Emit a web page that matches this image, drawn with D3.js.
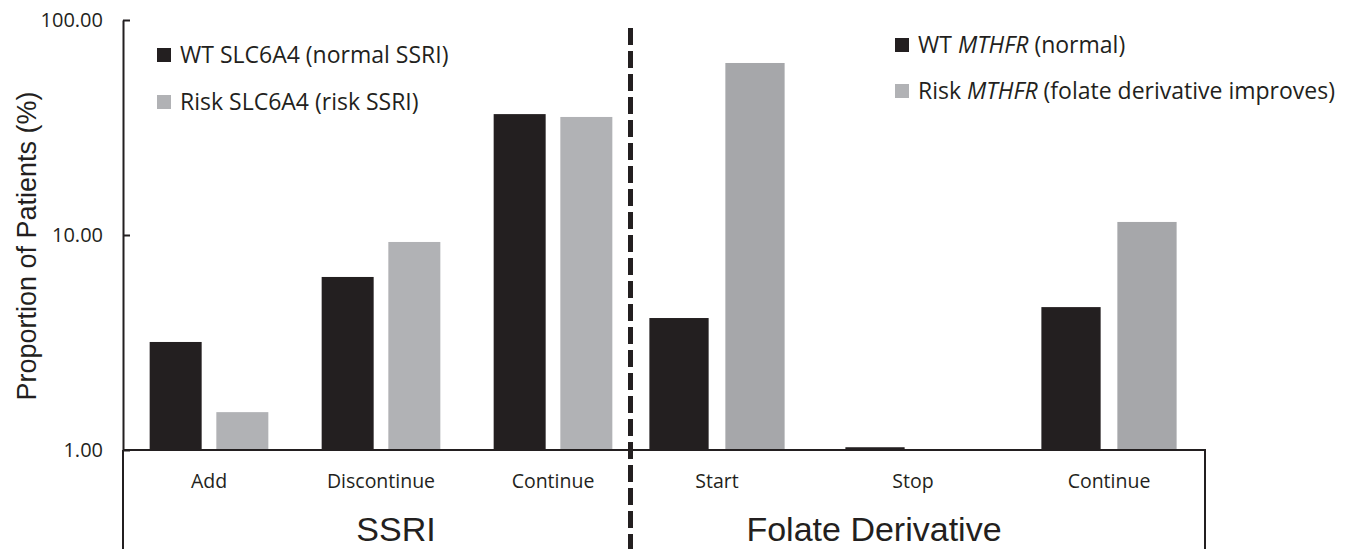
<!DOCTYPE html>
<html>
<head>
<meta charset="utf-8">
<script src="https://cdn.jsdelivr.net/npm/d3@7"></script>
<style>
  body { margin: 0; background: #fff; }
  svg text { fill: #231f20; }
</style>
</head>
<body>
<div id="chart"></div>
<script>
// SSRI panel
var ssriCategories = ['Add', 'Discontinue', 'Continue'];
var ssriWT = [3.18, 6.38, 36.5];
var ssriRisk = [1.50, 9.28, 35.4];

// Folate derivative panel
var folateCategories = ['Start', 'Stop', 'Continue'];
var folateWT = [4.11, 1.03, 4.62];
var folateRisk = [63.1, null, 11.5];

var yTicks = [1, 10, 100];
var groupLabels = ['SSRI', 'Folate Derivative'];

var W = 1370, H = 549;
var dark = '#231f20', greyL = '#b1b2b5', greyR = '#a6a7aa';

var svg = d3.select('#chart').append('svg')
  .attr('width', W)
  .attr('height', H);

var y = d3.scaleLog()
  .domain([1, 100])
  .range([450, 20]);

var xL = d3.scaleBand().domain(ssriCategories).range([123, 639]).paddingInner(0.31).paddingOuter(0.155);
var xR = d3.scaleBand().domain(folateCategories).range([619, 1207]).paddingInner(0.31).paddingOuter(0.155);
var sub = d3.scaleBand().domain(['wt', 'risk']).paddingInner(0.22).paddingOuter(0);

function drawPanel(x, cats, wt, risk, riskColor) {
  sub.range([0, x.bandwidth()]);
  var rows = cats.map(function(c, i) {
    return [{cat: c, key: 'wt', v: wt[i], color: dark},
            {cat: c, key: 'risk', v: risk[i], color: riskColor}];
  });
  var flat = [].concat.apply([], rows).filter(function(d) { return d.v != null; });
  svg.append('g').selectAll('rect')
    .data(flat)
    .enter()
    .append('rect')
    .attr('x', function(d) { return x(d.cat) + sub(d.key); })
    .attr('width', sub.bandwidth())
    .attr('y', function(d) { return y(d.v); })
    .attr('height', function(d) { return y(1) - y(d.v); })
    .attr('fill', function(d) { return d.color; });

  svg.append('g').selectAll('text')
    .data(cats)
    .enter()
    .append('text')
    .attr('x', function(d) { return x(d) + x.bandwidth() / 2; })
    .attr('y', 488)
    .attr('text-anchor', 'middle')
    .style('font-family', 'Open Sans, sans-serif')
    .style('font-size', '19.5px')
    .text(function(d) { return d; });
}

drawPanel(xL, ssriCategories, ssriWT, ssriRisk, greyL);
drawPanel(xR, folateCategories, folateWT, folateRisk, greyR);

// y axis
var yAxis = d3.axisLeft(y)
  .tickValues(yTicks)
  .tickFormat(d3.format('.2f'))
  .tickSizeInner(-7)
  .tickSizeOuter(0)
  .tickPadding(20);

var gy = svg.append('g')
  .attr('transform', 'translate(123,0)')
  .call(yAxis);
gy.select('.domain').attr('stroke', dark).attr('stroke-width', 2);
gy.selectAll('.tick line').attr('stroke', dark).attr('stroke-width', 2);
gy.selectAll('.tick text')
  .style('font-family', 'Open Sans, sans-serif')
  .style('font-size', '20px')
  .style('fill', dark);

// baseline and frame lines
svg.append('line')
  .attr('x1', 123).attr('x2', 1206)
  .attr('y1', y(1)).attr('y2', y(1))
  .attr('stroke', dark).attr('stroke-width', 2);
svg.append('line')
  .attr('x1', 123).attr('x2', 123)
  .attr('y1', y(1)).attr('y2', H)
  .attr('stroke', dark).attr('stroke-width', 2);
svg.append('line')
  .attr('x1', 1205).attr('x2', 1205)
  .attr('y1', y(1)).attr('y2', H)
  .attr('stroke', dark).attr('stroke-width', 2);

// dashed separator
svg.append('line')
  .attr('x1', 630.5).attr('x2', 630.5)
  .attr('y1', 28).attr('y2', H)
  .attr('stroke', dark).attr('stroke-width', 5)
  .attr('stroke-dasharray', '17,6');

// group labels
svg.append('text')
  .attr('x', 396)
  .attr('y', 541)
  .attr('text-anchor', 'middle')
  .style('font-family', 'Liberation Sans, Arial, sans-serif')
  .style('font-size', '34px')
  .text(groupLabels[0]);
svg.append('text')
  .attr('x', 874)
  .attr('y', 541)
  .attr('text-anchor', 'middle')
  .style('font-family', 'Liberation Sans, Arial, sans-serif')
  .style('font-size', '34px')
  .text(groupLabels[1]);

// y label
svg.append('text')
  .attr('transform', 'translate(36,246) rotate(-90)')
  .attr('text-anchor', 'middle')
  .style('font-family', 'Liberation Sans, Arial, sans-serif')
  .style('font-size', '27px')
  .text('Proportion of Patients (%)');

// legends
function legendItem(x0, yc, color, parts) {
  svg.append('rect')
    .attr('x', x0).attr('y', yc - 7)
    .attr('width', 14).attr('height', 14)
    .attr('fill', color);
  var t = svg.append('text')
    .attr('x', x0 + 23)
    .attr('y', yc + 8)
    .style('font-family', 'Open Sans, sans-serif')
    .style('font-size', '23px');
  parts.forEach(function(p) {
    t.append('tspan')
      .style('font-style', p[1] ? 'italic' : 'normal')
      .text(p[0]);
  });
}
legendItem(157, 55, dark, [['WT SLC6A4 (normal SSRI)', false]]);
legendItem(157, 102, greyL, [['Risk SLC6A4 (risk SSRI)', false]]);
legendItem(895, 45, dark, [['WT ', false], ['MTHFR', true], [' (normal)', false]]);
legendItem(895, 91, greyL, [['Risk ', false], ['MTHFR', true], [' (folate derivative improves)', false]]);
</script>
</body>
</html>
